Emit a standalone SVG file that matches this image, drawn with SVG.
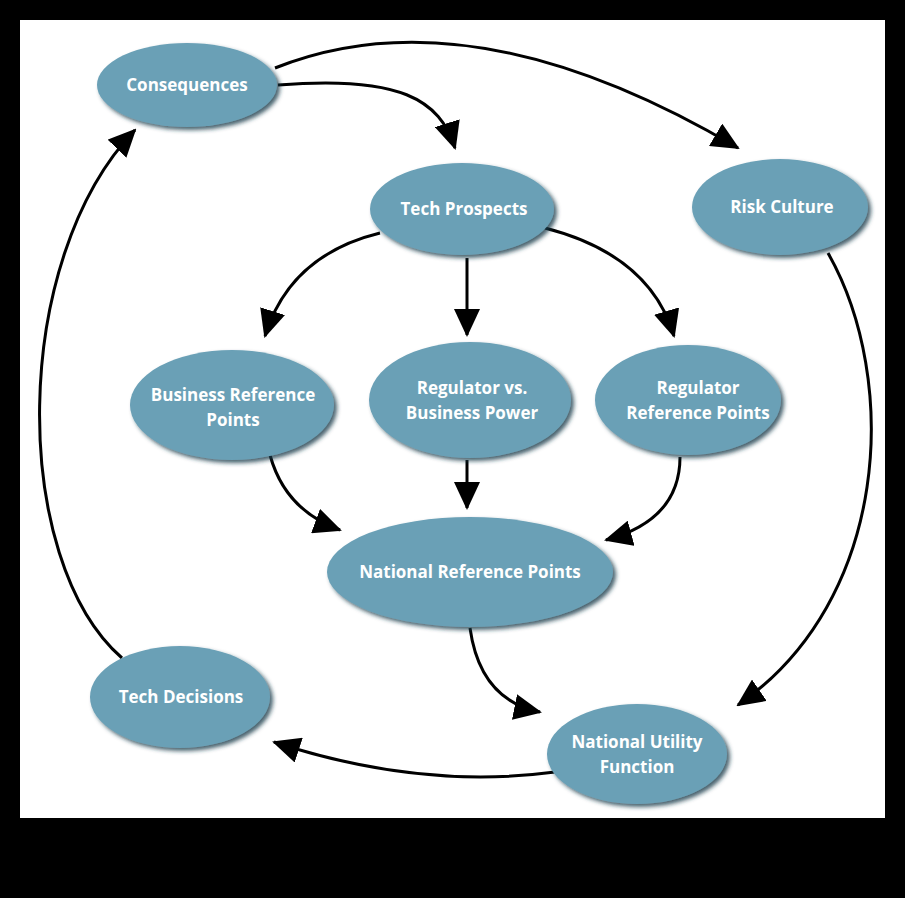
<svg xmlns="http://www.w3.org/2000/svg" width="905" height="898" viewBox="0 0 905 898">
<defs>
<marker id="ah" markerUnits="userSpaceOnUse" markerWidth="28" markerHeight="26" refX="26" refY="13" orient="auto"><path d="M0,0 L28,13 L0,26 Z" fill="#000"/></marker>
<filter id="sh" x="-10%" y="-10%" width="130%" height="130%"><feDropShadow dx="3" dy="3" stdDeviation="2" flood-color="#1d3a48" flood-opacity="0.8"/></filter>
</defs>
<style>
.n{fill:#6aa0b6;filter:url(#sh)}
.t{font-family:"Open Sans","Liberation Sans",sans-serif;font-weight:bold;font-size:17px;fill:#fff;text-anchor:middle}
.c{fill:none;stroke:#000;stroke-width:3;marker-end:url(#ah)}
</style>
<rect width="905" height="898" fill="#000"/>
<rect x="20" y="20" width="865" height="798" fill="#fff"/>
<g id="connectors">
<path class="c" d="M275,68 Q470,-10 738,148"/>
<path class="c" d="M278,85 C400,75 440,100 455,148"/>
<path class="c" d="M380,233 Q290,255 265,336"/>
<path class="c" d="M467,258 L467,335"/>
<path class="c" d="M545,228 Q650,255 674,336"/>
<path class="c" d="M270,455 Q285,510 340,530"/>
<path class="c" d="M467,460 L467,508"/>
<path class="c" d="M680,457 Q680,520 606,540"/>
<path class="c" d="M470,628 Q480,700 540,712"/>
<path class="c" d="M828,253 C900,380 890,600 738,705"/>
<path class="c" d="M555,772 Q420,790 274,742"/>
<path class="c" d="M122,658 C10,560 10,260 135,130"/>
</g>
<g id="consequences"><ellipse class="n" cx="187" cy="85" rx="90" ry="42"/><text class="t" x="187" y="91">Consequences</text></g>
<g id="tech-prospects"><ellipse class="n" cx="462" cy="209" rx="92" ry="46"/><text class="t" x="464" y="215">Tech Prospects</text></g>
<g id="risk-culture"><ellipse class="n" cx="780" cy="207" rx="88" ry="48"/><text class="t" x="782" y="213">Risk Culture</text></g>
<g id="business-ref"><ellipse class="n" cx="232" cy="405" rx="102" ry="55"/><text class="t" x="233" y="401">Business Reference</text><text class="t" x="233" y="426">Points</text></g>
<g id="regulator-vs"><ellipse class="n" cx="470" cy="400" rx="101" ry="58"/><text class="t" x="472" y="394">Regulator vs.</text><text class="t" x="472" y="419">Business Power</text></g>
<g id="regulator-ref"><ellipse class="n" cx="688" cy="400" rx="93" ry="55"/><text class="t" x="698" y="394">Regulator</text><text class="t" x="698" y="419">Reference Points</text></g>
<g id="national-ref"><ellipse class="n" cx="470" cy="572" rx="143" ry="55"/><text class="t" x="470" y="578">National Reference Points</text></g>
<g id="tech-decisions"><ellipse class="n" cx="180" cy="697" rx="90" ry="51"/><text class="t" x="181" y="703">Tech Decisions</text></g>
<g id="national-utility"><ellipse class="n" cx="637" cy="754" rx="90" ry="50"/><text class="t" x="637" y="748">National Utility</text><text class="t" x="637" y="773">Function</text></g>
</svg>
